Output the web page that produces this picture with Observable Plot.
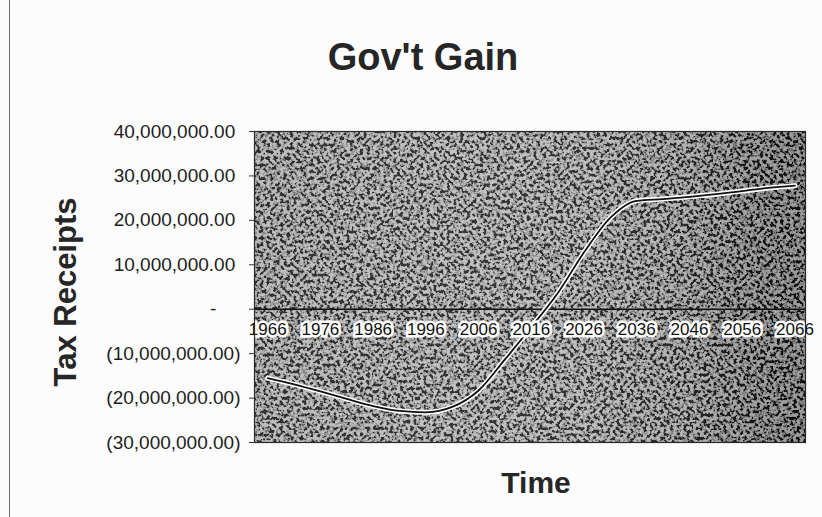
<!DOCTYPE html>
<html>
<head>
<meta charset="utf-8">
<script src="https://cdn.jsdelivr.net/npm/d3@7"></script>
<script src="https://cdn.jsdelivr.net/npm/@observablehq/plot@0.6"></script>
<style>
  body { margin: 0; background: #ffffff; }
  #wrap { position: relative; width: 822px; height: 517px; overflow: hidden; background: #fcfcfc;
          font-family: "Liberation Sans", Arial, sans-serif; }
  #pageline { position: absolute; left: 9px; top: 0; width: 1px; height: 517px; background: #6a6a6a; }
  #title { position: relative; left: 12px; width: 822px; height: 90px; box-sizing: border-box; padding-top: 38px;
           text-align: center; font-size: 38px; line-height: 38px; font-weight: bold; color: #262626; }
  #chart svg { display: block; }
</style>
</head>
<body>
<div id="wrap">
  <div id="pageline"></div>
  <div id="title"></div>
  <div id="chart"></div>
</div>
<script>
// ---- data ----
const titleText = "Gov't Gain";
const yLabel = "Tax Receipts";
const xLabel = "Time";
const years = [1966, 1971, 1976, 1981, 1986, 1991, 1996, 2001, 2006, 2011, 2016,
               2021, 2026, 2031, 2036, 2041, 2046, 2051, 2056, 2061, 2066];
const receipts = [-15500000, -16900000, -18500000, -20200000, -21800000, -22900000, -23200000,
                  -22000000, -18300000, -11300000, -4000000, 3600000, 12800000, 20600000,
                  24400000, 24800000, 25300000, 25900000, 26600000, 27300000, 27800000];
const xTickYears = [1966, 1976, 1986, 1996, 2006, 2016, 2026, 2036, 2046, 2056, 2066];
const yTicks = [-30000000, -20000000, -10000000, 0, 10000000, 20000000, 30000000, 40000000];

const table = years.map((yr, i) => ({year: yr, value: receipts[i]}));

document.getElementById("title").textContent = titleText;

const fmt = d3.format(",.2f");
function acct(v) {
  if (v === 0) return "-\u2003\u2008";
  return v < 0 ? "(" + fmt(-v) + ")" : fmt(v) + "\u2008";
}

const plot = Plot.plot({
  width: 822,
  height: 427,
  marginTop: 41,
  marginBottom: 75,
  marginLeft: 254,
  marginRight: 17,
  style: {fontFamily: "Liberation Sans, Arial, sans-serif", color: "#222", background: "transparent", overflow: "visible"},
  x: {domain: [1963.5, 2068], axis: null},
  y: {domain: [-30000000, 40000000], axis: null},
  marks: [
    Plot.frame({fill: "url(#bgGrad)"}),
    Plot.frame({fill: "#ffffff", ariaLabel: "noise"}),
    Plot.ruleY([0], {stroke: "#111", strokeWidth: 1.4}),
    Plot.line(table, {x: "year", y: "value", curve: "monotone-x", stroke: "#ffffff", strokeWidth: 5}),
    Plot.line(table, {x: "year", y: "value", curve: "monotone-x", stroke: "#111", strokeWidth: 1.8}),
    Plot.text(xTickYears, {x: d => d, y: 0, text: d => String(d), dy: 20, fontSize: 17,
                           fill: "#111", stroke: "#ffffff", strokeWidth: 5, strokeLinejoin: "miter"}),
    Plot.frame({stroke: "#2a2a2a", strokeWidth: 1.2}),
    Plot.axisY({ticks: yTicks, tickFormat: acct, tickSize: 5, tickPadding: 9, fontSize: 19,
                label: null, stroke: "#333", fill: "#1e1e1e"}),
    Plot.text([yLabel], {text: d => d, frameAnchor: "left", textAnchor: "middle", lineAnchor: "middle",
                         dx: -188, dy: 5, rotate: -90,
                         fontSize: 31, fontWeight: "bold", fill: "#262626"}),
    Plot.text([xLabel], {text: d => d, frameAnchor: "bottom", textAnchor: "middle", lineAnchor: "middle",
                         dx: 6, dy: 41,
                         fontSize: 30, fontWeight: "bold", fill: "#262626"})
  ]
});

// decorative scan-like texture for the plot area
const svg = d3.select(plot);
const defs = svg.insert("defs", ":first-child");
const grad = defs.append("linearGradient").attr("id", "bgGrad").attr("x1", 0).attr("x2", 1).attr("y1", 0).attr("y2", 0);
[["0%", "#6c6c6c"], ["35%", "#787878"], ["60%", "#737373"], ["78%", "#585858"], ["90%", "#303030"], ["100%", "#222"]]
  .forEach(([o, c]) => grad.append("stop").attr("offset", o).attr("stop-color", c));
const f = defs.append("filter").attr("id", "noise").attr("x", 0).attr("y", 0).attr("width", 1).attr("height", 1);
f.append("feTurbulence").attr("type", "fractalNoise").attr("baseFrequency", 0.3).attr("numOctaves", 2).attr("seed", 7).attr("result", "t");
f.append("feColorMatrix").attr("in", "t").attr("type", "matrix")
  .attr("values", "5 0 0 0 -2.0  5 0 0 0 -2.0  5 0 0 0 -2.0  0 0 0 0 1").attr("result", "g");
f.append("feComposite").attr("in", "g").attr("in2", "SourceGraphic").attr("operator", "in");
svg.select('[aria-label="noise"]').attr("filter", "url(#noise)").attr("opacity", 0.55);

document.getElementById("chart").appendChild(plot);
</script>
</body>
</html>
